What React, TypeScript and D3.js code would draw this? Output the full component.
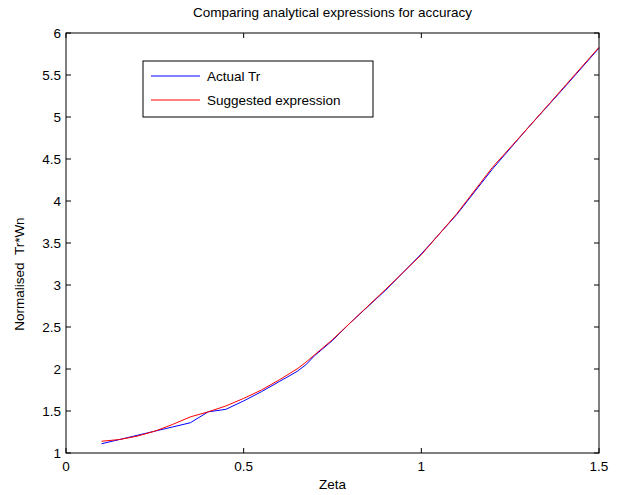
import * as React from "react";
import * as d3 from "d3";

// zeta values and the two curves
const zeta = [0.1, 0.15, 0.2, 0.25, 0.3, 0.35, 0.4, 0.45, 0.5, 0.55, 0.6, 0.65, 0.675, 0.7, 0.75, 0.8, 0.9, 1.0, 1.1, 1.2, 1.3, 1.4, 1.5];
const actualTr = [1.11, 1.16, 1.21, 1.26, 1.31, 1.36, 1.49, 1.52, 1.62, 1.73, 1.85, 1.97, 2.05, 2.16, 2.34, 2.55, 2.94, 3.37, 3.84, 4.38, 4.87, 5.34, 5.82];
const suggested = [1.14, 1.16, 1.2, 1.26, 1.34, 1.43, 1.49, 1.56, 1.65, 1.75, 1.87, 2.0, 2.08, 2.17, 2.35, 2.55, 2.95, 3.36, 3.85, 4.4, 4.87, 5.35, 5.83];

const xTicks = [0, 0.5, 1, 1.5];
const yTicks = [1, 1.5, 2, 2.5, 3, 3.5, 4, 4.5, 5, 5.5, 6];

const series = [
  { name: "Actual Tr", values: actualTr, color: "#0000ff" },
  { name: "Suggested expression", values: suggested, color: "#ff0000" },
];

export default function App() {
  const width = 620;
  const height = 495;
  const left = 66;
  const right = 599;
  const top = 33;
  const bottom = 453;
  const font = "Arial, 'Liberation Sans', sans-serif";
  const fs = 13.5;

  const x = d3.scaleLinear().domain([0, 1.5]).range([left, right]);
  const y = d3.scaleLinear().domain([1, 6]).range([bottom, top]);

  const line = (vals: number[]) =>
    d3
      .line<number>()
      .x((d, i) => x(zeta[i]))
      .y((d) => y(d))(vals) || "";

  return (
    <svg
      width={width}
      height={height}
      style={{ position: "absolute", left: 0, top: 0, background: "#fff" }}
      fontFamily={font}
    >
      <rect x={0} y={0} width={width} height={height} fill="#fff" />
      <text x={(left + right) / 2} y={17} textAnchor="middle" fontSize={fs}>
        Comparing analytical expressions for accuracy
      </text>

      {series.map((s) => (
        <path key={s.name} d={line(s.values)} fill="none" stroke={s.color} strokeWidth={1} />
      ))}

      {/* ticks */}
      {xTicks.map((t) => (
        <g key={"x" + t}>
          <line x1={x(t)} x2={x(t)} y1={bottom} y2={bottom - 5} stroke="#000" />
          <line x1={x(t)} x2={x(t)} y1={top} y2={top + 5} stroke="#000" />
          <text x={x(t)} y={bottom + 18} textAnchor="middle" fontSize={fs}>
            {t}
          </text>
        </g>
      ))}
      {yTicks.map((t) => (
        <g key={"y" + t}>
          <line x1={left} x2={left + 5} y1={y(t)} y2={y(t)} stroke="#000" />
          <line x1={right} x2={right - 5} y1={y(t)} y2={y(t)} stroke="#000" />
          <text x={left - 5} y={y(t)} dy="0.36em" textAnchor="end" fontSize={fs}>
            {t}
          </text>
        </g>
      ))}

      <rect x={left} y={top} width={right - left} height={bottom - top} fill="none" stroke="#000" strokeWidth={1} />

      <text x={(left + right) / 2} y={489} textAnchor="middle" fontSize={fs}>
        Zeta
      </text>
      <text
        transform={`translate(24, 274) rotate(-90)`}
        textAnchor="middle"
        fontSize={fs}
        style={{ whiteSpace: "pre" }}
      >
        Normalised  Tr*Wn
      </text>

      {/* legend */}
      <g transform="translate(143, 61)">
        <rect x={0} y={0} width={230} height={56} fill="#fff" stroke="#000" />
        {series.map((s, i) => (
          <g key={s.name} transform={`translate(0, ${15 + i * 24})`}>
            <line x1={8} x2={57} y1={0} y2={0} stroke={s.color} />
            <text x={64} y={0} dy="0.36em" fontSize={fs}>
              {s.name}
            </text>
          </g>
        ))}
      </g>
    </svg>
  );
}
